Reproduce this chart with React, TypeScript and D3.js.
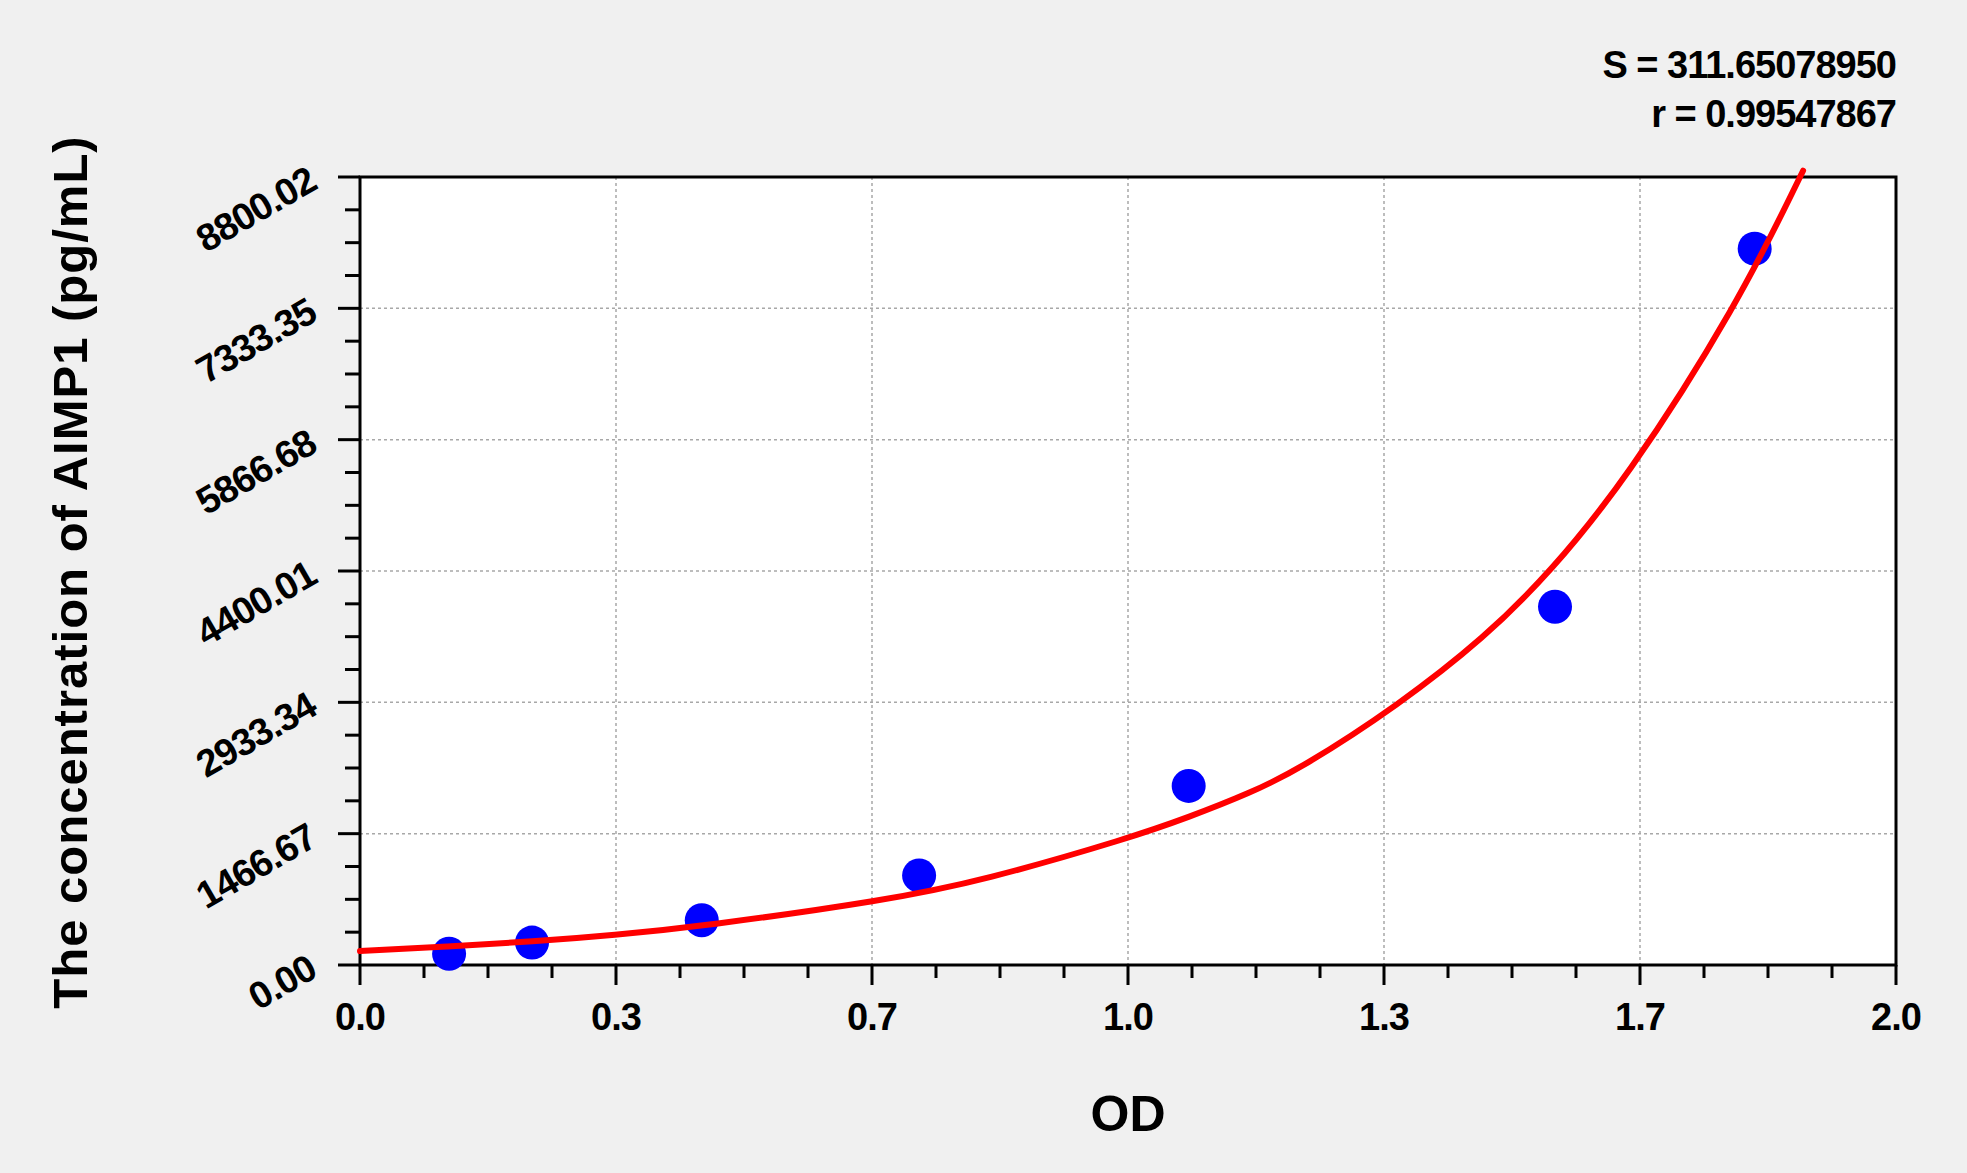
import React, { useEffect, useRef } from 'react';
import * as d3 from 'd3';

// standards (OD vs concentration)
const odValues = [0.116, 0.224, 0.445, 0.728, 1.079, 1.556, 1.816];
const concValues = [125, 250, 500, 1000, 2000, 4000, 8000];

// fitted curve
const fitOd = [0, 0.113, 0.226, 0.33, 0.445, 0.686, 0.812, 1.003, 1.079, 1.159, 1.224, 1.352, 1.465, 1.549, 1.647, 1.793, 1.879];
const fitConc = [156, 204, 262, 334, 432, 724, 945, 1420, 1650, 1920, 2190, 2900, 3660, 4380, 5400, 7360, 8870];

const xTickLabels = ['0.0', '0.3', '0.7', '1.0', '1.3', '1.7', '2.0'];
const yTickLabels = ['0.00', '1466.67', '2933.34', '4400.01', '5866.68', '7333.35', '8800.02'];

const statLines = ['S = 311.65078950', 'r = 0.99547867'];

const W = 1967;
const H = 1173;
const FONT = '"Liberation Sans", Arial, Helvetica, sans-serif';

const App = () => {
  const ref = useRef<SVGSVGElement>(null);

  useEffect(() => {
    const svg = d3.select(ref.current);
    svg.selectAll('*').remove();

    const left = 360, right = 1896, top = 177, bottom = 965;

    const xMax = +xTickLabels[xTickLabels.length - 1];
    const yMax = +yTickLabels[yTickLabels.length - 1];
    const x = d3.scaleLinear().domain([0, xMax]).range([left, right]);
    const y = d3.scaleLinear().domain([0, yMax]).range([bottom, top]);

    const nX = xTickLabels.length - 1;
    const nY = yTickLabels.length - 1;
    const xTicks = d3.range(nX + 1).map(i => (xMax * i) / nX);
    const yTicks = d3.range(nY + 1).map(i => (yMax * i) / nY);
    const xMinor = d3.range(nX * 4 + 1).map(i => (xMax * i) / (nX * 4)).filter((_, i) => i % 4 !== 0);
    const yMinor = d3.range(nY * 4 + 1).map(i => (yMax * i) / (nY * 4)).filter((_, i) => i % 4 !== 0);

    // background
    svg.append('rect').attr('width', W).attr('height', H).attr('fill', '#f0f0f0');
    svg.append('rect')
      .attr('x', left).attr('y', top)
      .attr('width', right - left).attr('height', bottom - top)
      .attr('fill', '#ffffff');

    // grid
    svg.append('g')
      .selectAll('line')
      .data(xTicks.slice(1, -1))
      .join('line')
      .attr('x1', d => x(d)).attr('x2', d => x(d))
      .attr('y1', top).attr('y2', bottom)
      .attr('stroke', '#a8a8a8').attr('stroke-width', 1.5).attr('stroke-dasharray', '3,3');
    svg.append('g')
      .selectAll('line')
      .data(yTicks.slice(1, -1))
      .join('line')
      .attr('y1', d => y(d)).attr('y2', d => y(d))
      .attr('x1', left).attr('x2', right)
      .attr('stroke', '#a8a8a8').attr('stroke-width', 1.5).attr('stroke-dasharray', '3,3');

    // ticks
    const tk = svg.append('g').attr('stroke', '#000').attr('stroke-width', 3);
    tk.selectAll('.xmaj').data(xTicks).join('line').attr('class', 'xmaj')
      .attr('x1', d => x(d)).attr('x2', d => x(d)).attr('y1', bottom).attr('y2', bottom + 20);
    tk.selectAll('.xmin').data(xMinor).join('line').attr('class', 'xmin')
      .attr('x1', d => x(d)).attr('x2', d => x(d)).attr('y1', bottom).attr('y2', bottom + 13);
    tk.selectAll('.ymaj').data(yTicks).join('line').attr('class', 'ymaj')
      .attr('y1', d => y(d)).attr('y2', d => y(d)).attr('x1', left).attr('x2', left - 22);
    tk.selectAll('.ymin').data(yMinor).join('line').attr('class', 'ymin')
      .attr('y1', d => y(d)).attr('y2', d => y(d)).attr('x1', left).attr('x2', left - 15);

    // frame
    svg.append('rect')
      .attr('x', left).attr('y', top)
      .attr('width', right - left).attr('height', bottom - top)
      .attr('fill', 'none').attr('stroke', '#000').attr('stroke-width', 3);

    // tick labels
    svg.append('g')
      .selectAll('text')
      .data(xTicks)
      .join('text')
      .attr('x', d => x(d)).attr('y', bottom + 65)
      .attr('text-anchor', 'middle')
      .attr('font-family', FONT).attr('font-weight', 'bold').attr('font-size', 38)
      .attr('letter-spacing', -1)
      .text((d, i) => xTickLabels[i]);

    svg.append('g')
      .selectAll('text')
      .data(yTicks)
      .join('text')
      .attr('transform', d => `translate(${left - 22},${y(d)}) rotate(-30)`)
      .attr('x', -22).attr('y', 0)
      .attr('text-anchor', 'end')
      .attr('font-family', FONT).attr('font-weight', 'bold').attr('font-size', 38)
      .attr('letter-spacing', -1)
      .text((d, i) => yTickLabels[i]);

    // data points
    svg.append('g')
      .selectAll('circle')
      .data(odValues)
      .join('circle')
      .attr('cx', d => x(d))
      .attr('cy', (d, i) => y(concValues[i]))
      .attr('r', 17)
      .attr('fill', '#0000ff');

    // fitted curve (smoothed through the read points)
    const line = d3.line<number>()
      .x(d => x(d))
      .y((d, i) => y(fitConc[i]))
      .curve(d3.curveBasis);
    svg.append('path')
      .attr('d', line(fitOd) as string)
      .attr('fill', 'none')
      .attr('stroke', '#ff0000')
      .attr('stroke-width', 6)
      .attr('stroke-linecap', 'round');

    // statistics
    svg.append('g')
      .selectAll('text')
      .data(statLines)
      .join('text')
      .attr('x', right).attr('y', (d, i) => 78 + i * 49)
      .attr('text-anchor', 'end')
      .attr('font-family', FONT).attr('font-weight', 'bold').attr('font-size', 38)
      .attr('letter-spacing', -1)
      .text(d => d);

    // axis titles
    svg.append('text')
      .attr('x', (left + right) / 2).attr('y', 1131)
      .attr('text-anchor', 'middle')
      .attr('font-family', FONT).attr('font-weight', 'bold').attr('font-size', 50)
      .text('OD');

    svg.append('text')
      .attr('transform', `translate(87,572) rotate(-90)`)
      .attr('text-anchor', 'middle')
      .attr('font-family', FONT).attr('font-weight', 'bold').attr('font-size', 49)
      .attr('letter-spacing', 1)
      .text('The concentration of AIMP1 (pg/mL)');
  }, []);

  return (
    <svg
      ref={ref}
      width={W}
      height={H}
      style={{ position: 'absolute', left: 0, top: 0, display: 'block' }}
    />
  );
};

export default App;
